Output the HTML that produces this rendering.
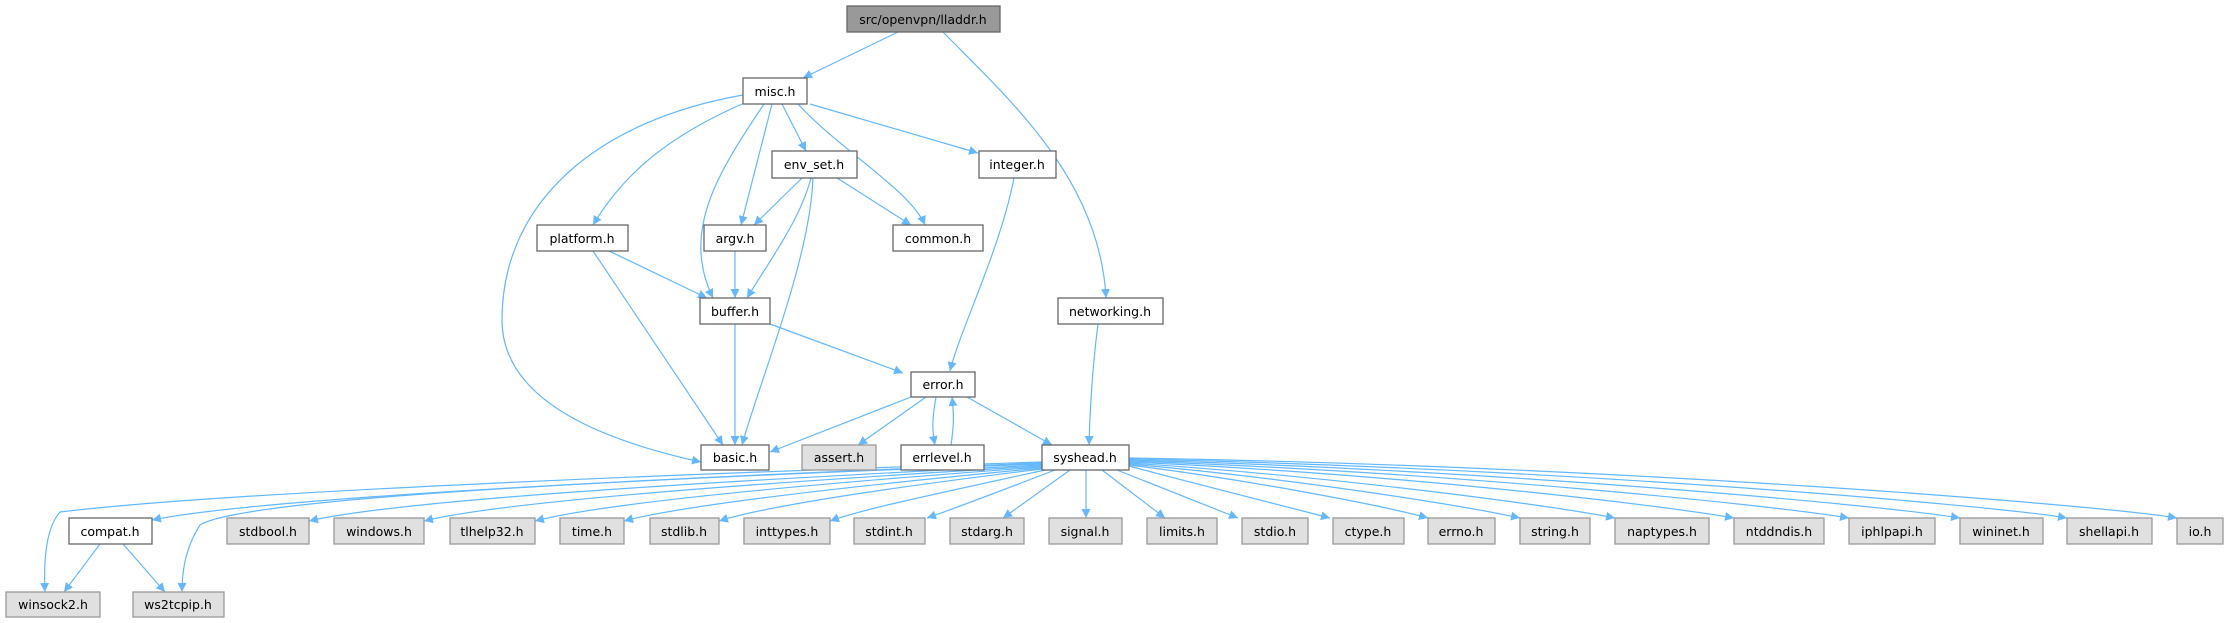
<!DOCTYPE html>
<html><head><meta charset="utf-8"><style>
html,body{margin:0;padding:0;background:#fff;}
svg{display:block;}
text{font-family:"DejaVu Sans",sans-serif;font-size:12.5px;fill:#000;text-anchor:middle;}
.e{fill:none;stroke:#63b8ff;stroke-width:1.2;marker-end:url(#a);}
.n rect{fill:#fff;stroke:#666;stroke-width:1.3;}
.g rect{fill:#e0e0e0;stroke:#999;stroke-width:1.3;}
</style></head><body>
<svg width="2229" height="623" viewBox="0 0 2229 623" xmlns="http://www.w3.org/2000/svg">
<defs><marker id="a" viewBox="0 0 10 10" refX="10" refY="5" markerWidth="9" markerHeight="9" markerUnits="userSpaceOnUse" orient="auto"><path d="M0,0 L10,5 L0,10 z" fill="#63b8ff"/></marker></defs>
<g>
<path class="e" d="M898,32 L803,78"/>
<path class="e" d="M943,32 C1010,100 1100,180 1106,298"/>
<path class="e" d="M743,95 C600,120 502,200 502,320 C502,400 600,440 701,462"/>
<path class="e" d="M742,104 C660,140 620,180 593,225"/>
<path class="e" d="M764,104 C720,170 680,230 713,298"/>
<path class="e" d="M772,104 L741,225"/>
<path class="e" d="M782,104 L806,151"/>
<path class="e" d="M798,104 C840,150 910,190 925,225"/>
<path class="e" d="M810,104 L978,153"/>
<path class="e" d="M802,178 L754,225"/>
<path class="e" d="M811,178 C800,220 770,260 747,298"/>
<path class="e" d="M813,178 C810,260 760,380 742,445"/>
<path class="e" d="M837,178 L911,225"/>
<path class="e" d="M1014,178 C1000,250 960,330 950,371"/>
<path class="e" d="M593,251 L723,445"/>
<path class="e" d="M609,251 L707,298"/>
<path class="e" d="M735,251 L735,298"/>
<path class="e" d="M735,324 L735,445"/>
<path class="e" d="M770,324 L903,373"/>
<path class="e" d="M911,397 L770,452"/>
<path class="e" d="M926,397 L858,445"/>
<path class="e" d="M936,397 C932,420 932,430 935,445"/>
<path class="e" d="M951,445 C954,425 954,415 952,397"/>
<path class="e" d="M967,397 L1052,445"/>
<path class="e" d="M1098,324 C1092,370 1090,410 1089,445"/>
<!-- syshead children -->
<path class="e" d="M1042,462 C560,478 200,495 60,512 C44,530 44,570 45,592"/>
<path class="e" d="M1042,463 C560,482 240,500 200,525 C184,550 182,575 182,592"/>
<path class="e" d="M1042,464 C600,480 250,500 152,520"/>
<path class="e" d="M1042,465 C700,482 400,500 309,521"/>
<path class="e" d="M1042,466 C740,484 500,502 424,521"/>
<path class="e" d="M1042,467 C780,486 600,504 535,521"/>
<path class="e" d="M1042,468 C830,488 680,506 624,521"/>
<path class="e" d="M1042,469 C870,490 760,508 719,521"/>
<path class="e" d="M1045,470 C930,495 860,510 830,521"/>
<path class="e" d="M1055,470 C990,495 950,510 927,518"/>
<path class="e" d="M1070,470 L1003,518"/>
<path class="e" d="M1086,470 L1086,518"/>
<path class="e" d="M1102,470 L1165,518"/>
<path class="e" d="M1117,470 L1238,518"/>
<path class="e" d="M1129,466 C1200,485 1280,505 1330,518"/>
<path class="e" d="M1129,465 C1250,480 1380,505 1428,518"/>
<path class="e" d="M1129,464 C1290,478 1460,505 1520,518"/>
<path class="e" d="M1129,463 C1330,476 1550,505 1615,518"/>
<path class="e" d="M1129,462 C1400,474 1660,505 1734,518"/>
<path class="e" d="M1129,461 C1450,472 1770,505 1849,518"/>
<path class="e" d="M1129,460 C1500,470 1880,505 1960,518"/>
<path class="e" d="M1129,459 C1560,468 1990,505 2067,518"/>
<path class="e" d="M1129,458 C1620,466 2100,505 2177,518"/>
<path class="e" d="M100,544 L64,592"/>
<path class="e" d="M123,544 L165,592"/>
</g>
<g class="n">
<rect x="847" y="6" width="153" height="26" style="fill:#999;stroke:#666"/><text x="923" y="24">src/openvpn/lladdr.h</text>
<rect x="743" y="78" width="64" height="26"/><text x="775" y="96">misc.h</text>
<rect x="772" y="151" width="85" height="27"/><text x="814" y="169">env_set.h</text>
<rect x="979" y="151" width="77" height="27"/><text x="1017" y="169">integer.h</text>
<rect x="537" y="225" width="91" height="26"/><text x="582" y="243">platform.h</text>
<rect x="704" y="225" width="62" height="26"/><text x="735" y="243">argv.h</text>
<rect x="893" y="225" width="90" height="26"/><text x="938" y="243">common.h</text>
<rect x="700" y="298" width="70" height="26"/><text x="735" y="316">buffer.h</text>
<rect x="1058" y="298" width="105" height="26"/><text x="1110" y="316">networking.h</text>
<rect x="911" y="372" width="64" height="25"/><text x="943" y="389">error.h</text>
<rect x="701" y="445" width="68" height="25"/><text x="735" y="462">basic.h</text>
<rect x="901" y="445" width="83" height="25"/><text x="942" y="462">errlevel.h</text>
<rect x="1042" y="445" width="87" height="25"/><text x="1085" y="462">syshead.h</text>
<rect x="69" y="518" width="83" height="26"/><text x="110" y="536">compat.h</text>
</g>
<g class="g">
<rect x="802" y="445" width="74" height="25"/><text x="839" y="462">assert.h</text>
<rect x="227" y="518" width="82" height="26"/><text x="268" y="536">stdbool.h</text>
<rect x="334" y="518" width="90" height="26"/><text x="379" y="536">windows.h</text>
<rect x="450" y="518" width="85" height="26"/><text x="492" y="536">tlhelp32.h</text>
<rect x="560" y="518" width="64" height="26"/><text x="592" y="536">time.h</text>
<rect x="650" y="518" width="69" height="26"/><text x="684" y="536">stdlib.h</text>
<rect x="744" y="518" width="86" height="26"/><text x="787" y="536">inttypes.h</text>
<rect x="854" y="518" width="71" height="26"/><text x="889" y="536">stdint.h</text>
<rect x="950" y="518" width="74" height="26"/><text x="987" y="536">stdarg.h</text>
<rect x="1049" y="518" width="73" height="26"/><text x="1085" y="536">signal.h</text>
<rect x="1147" y="518" width="70" height="26"/><text x="1182" y="536">limits.h</text>
<rect x="1242" y="518" width="66" height="26"/><text x="1275" y="536">stdio.h</text>
<rect x="1333" y="518" width="71" height="26"/><text x="1368" y="536">ctype.h</text>
<rect x="1428" y="518" width="67" height="26"/><text x="1461" y="536">errno.h</text>
<rect x="1520" y="518" width="70" height="26"/><text x="1555" y="536">string.h</text>
<rect x="1615" y="518" width="94" height="26"/><text x="1662" y="536">naptypes.h</text>
<rect x="1734" y="518" width="90" height="26"/><text x="1779" y="536">ntddndis.h</text>
<rect x="1849" y="518" width="86" height="26"/><text x="1892" y="536">iphlpapi.h</text>
<rect x="1960" y="518" width="83" height="26"/><text x="2001" y="536">wininet.h</text>
<rect x="2067" y="518" width="85" height="26"/><text x="2109" y="536">shellapi.h</text>
<rect x="2177" y="518" width="46" height="26"/><text x="2200" y="536">io.h</text>
<rect x="6" y="592" width="94" height="25"/><text x="53" y="609">winsock2.h</text>
<rect x="133" y="592" width="91" height="25"/><text x="178" y="609">ws2tcpip.h</text>
</g>
</svg>
</body></html>
